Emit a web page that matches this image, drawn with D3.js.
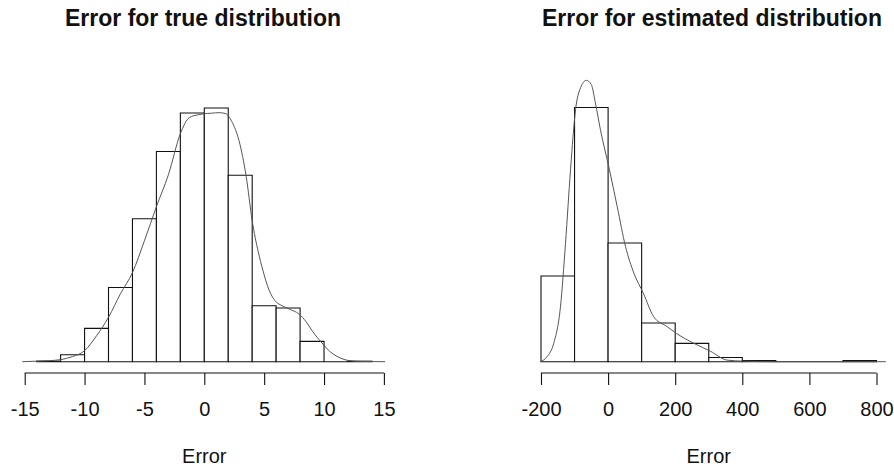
<!DOCTYPE html>
<html>
<head>
<meta charset="utf-8">
<script src="https://cdn.jsdelivr.net/npm/d3@7"></script>
<style>
  html, body { margin: 0; padding: 0; background: #fff; }
  svg { display: block; font-family: "Liberation Sans", Arial, sans-serif; }
</style>
</head>
<body>
<svg id="chart" width="894" height="468"></svg>
<script>
// Histogram of errors (density scale), true distribution
const trueBreaks = [-14, -12, -10, -8, -6, -4, -2, 0, 2, 4, 6, 8, 10, 12, 14];
const trueDensity = [0.0002, 0.0027, 0.0130, 0.0289, 0.0557, 0.0819, 0.0969, 0.0988, 0.0726, 0.0218, 0.0209, 0.0079, 0, 0.0002];
// Kernel density estimate of the same errors
const trueKdeX = [-15.2, -14, -13, -12, -11, -10, -9, -8, -7, -6, -5, -4, -3, -2, -1.25, -0.5, 0, 0.6, 1.25, 1.8, 2.3, 2.9, 3.5, 4, 4.5, 4.9, 5.4, 5.9, 6.5, 7.1, 7.9, 8.5, 9, 9.9, 10.5, 11, 12, 13, 15.1];
const trueKdeY = [0, 0.0002, 0.0004, 0.0008, 0.0020, 0.0043, 0.0101, 0.0173, 0.0265, 0.0347, 0.0471, 0.0604, 0.0728, 0.0888, 0.0951, 0.0962, 0.0966, 0.0968, 0.0970, 0.0966, 0.0935, 0.0861, 0.0721, 0.0549, 0.0429, 0.0355, 0.0280, 0.0238, 0.0218, 0.0205, 0.0186, 0.0156, 0.0121, 0.0069, 0.0039, 0.0023, 0.0005, 0.0001, 0];
const trueTicks = [-15, -10, -5, 0, 5, 10, 15];

// Histogram of errors (density scale), estimated distribution
const estBreaks = [-200, -100, 0, 100, 200, 300, 400, 500, 600, 700, 800];
const estDensity = [0.00164, 0.00486, 0.00227, 0.00074, 0.00035, 0.00008, 0.00002, 0, 0, 0.00002];
const estKdeX = [-202, -182, -162, -142, -127, -112, -97, -82, -65, -50, -38, -23, 4, 27, 52, 77, 105, 136, 176, 204, 256, 305, 355, 405, 500, 700, 828];
const estKdeY = [0, 0.000096, 0.000352, 0.00105, 0.00226, 0.00367, 0.00482, 0.00524, 0.00538, 0.00530, 0.00495, 0.00444, 0.00367, 0.00297, 0.00220, 0.00169, 0.00131, 0.00086, 0.00067, 0.00054, 0.00035, 0.00020, 0.00003, 0.00001, 0, 0, 0];
const estTicks = [-200, 0, 200, 400, 600, 800];

const svg = d3.select("#chart");

function panel(opts) {
  const g = svg.append("g");
  const x = d3.scaleLinear().domain(opts.xDomain).range(opts.xRange);
  const y = d3.scaleLinear().domain([0, opts.yMax]).range([361.7, 79.3]);

  // bars: drawn as closed paths so empty bins still show their base line
  const bins = opts.density.map((d, i) => ({ x0: opts.breaks[i], x1: opts.breaks[i + 1], d }));
  g.selectAll("path.bar").data(bins).join("path")
    .attr("class", "bar")
    .attr("d", b => `M${x(b.x0)},${y(0)}V${y(b.d)}H${x(b.x1)}V${y(0)}Z`)
    .attr("fill", "#fff")
    .attr("stroke", "#111")
    .attr("stroke-width", 1.1);

  // density curve
  const pts = opts.kdeX.map((v, i) => [v, opts.kdeY[i]]);
  g.append("path")
    .attr("d", d3.line().x(p => x(p[0])).y(p => y(p[1])).curve(d3.curveMonotoneX)(pts))
    .attr("fill", "none")
    .attr("stroke", "#555")
    .attr("stroke-width", 1);

  // x axis
  const axis = d3.axisBottom(x).tickValues(opts.ticks).tickSize(12).tickSizeOuter(0).tickPadding(5);
  const ax = g.append("g").attr("transform", "translate(0,373)").call(axis);
  ax.select(".domain").attr("stroke", "#111").attr("stroke-width", 1.1)
    .attr("d", `M${x(opts.ticks[0])},0H${x(opts.ticks[opts.ticks.length - 1])}`);
  ax.selectAll(".tick line").attr("stroke", "#111").attr("stroke-width", 1.1);
  ax.selectAll(".tick text")
    .attr("font-family", "Liberation Sans, Arial, sans-serif")
    .attr("font-size", 20)
    .attr("fill", "#111")
    .attr("dy", null)
    .attr("y", 43)
    .text(d => d < 0 ? "-" + Math.abs(d) : String(d));

  const cx = (opts.xRange[0] + opts.xRange[1]) / 2;
  g.append("text")
    .attr("x", cx).attr("y", 463)
    .attr("text-anchor", "middle")
    .attr("font-size", 20)
    .attr("fill", "#111")
    .text("Error");

  g.append("text")
    .attr("x", opts.titleX).attr("y", 26)
    .attr("text-anchor", "middle")
    .attr("font-size", 23)
    .attr("font-weight", "bold")
    .attr("fill", "#111")
    .text(opts.title);
}

panel({
  title: "Error for true distribution", titleX: 203,
  xDomain: [-15, 15], xRange: [24.7, 383.9], yMax: 0.11,
  breaks: trueBreaks, density: trueDensity, kdeX: trueKdeX, kdeY: trueKdeY, ticks: trueTicks
});
panel({
  title: "Error for estimated distribution", titleX: 712,
  xDomain: [-200, 800], xRange: [541, 876.5], yMax: 0.0054,
  breaks: estBreaks, density: estDensity, kdeX: estKdeX, kdeY: estKdeY, ticks: estTicks
});
</script>
</body>
</html>
